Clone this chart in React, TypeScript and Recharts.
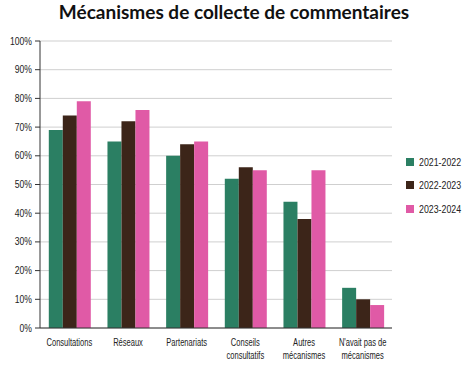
import React from 'react';
import { BarChart, Bar, XAxis, YAxis, CartesianGrid } from 'recharts';

const categories = ['Consultations', 'Réseaux', 'Partenariats', 'Conseils\nconsultatifs', 'Autres\nmécanismes', "N'avait pas de\nmécanismes"];
const s2021 = [69, 65, 60, 52, 44, 14];
const s2022 = [74, 72, 64, 56, 38, 10];
const s2023 = [79, 76, 65, 55, 55, 8];
const seriesNames = ['2021-2022', '2022-2023', '2023-2024'];
const yTicks = [0, 10, 20, 30, 40, 50, 60, 70, 80, 90, 100];

const colors = ['#2b7f63', '#3c2519', '#e05aa6'];
const data = categories.map((c, i) => ({ name: c, a: s2021[i], b: s2022[i], c: s2023[i] }));
const FONT = '"Liberation Sans", Arial, sans-serif';

const XTick = (props: any) => {
  const { x, y, payload } = props;
  const lines = String(payload.value).split('\n');
  return (
    <g transform={`translate(${x},${y}) scale(0.72,1)`}>
      <text x={0} y={0} textAnchor="middle" fontFamily={FONT} fontSize={10.5} fill="#222">
        {lines.map((l: string, i: number) => (
          <tspan key={i} x={0} dy={i === 0 ? 10 : 13}>{l}</tspan>
        ))}
      </text>
    </g>
  );
};

const YTick = (props: any) => {
  const { x, y, payload } = props;
  return (
    <g transform={`translate(${x},${y}) scale(0.82,1)`}>
      <text x={0} y={0} dy={3.5} textAnchor="end" fontFamily={FONT} fontSize={10.5} fill="#222">{`${payload.value}%`}</text>
    </g>
  );
};

const LegendBox = () => (
  <div style={{ position: 'absolute', left: 406, top: 150, width: 62, fontFamily: FONT, fontSize: 11, color: '#222' }}>
    {seriesNames.map((n, i) => (
      <div key={n} style={{ display: 'flex', alignItems: 'center', height: 23.5, whiteSpace: 'nowrap' }}>
        <div style={{ width: 8, height: 8, background: colors[i], marginRight: 5, flex: 'none' }} />
        <span style={{ display: 'inline-block', transform: 'scaleX(0.8)', transformOrigin: 'left center' }}>{n}</span>
      </div>
    ))}
  </div>
);

export default function App() {
  return (
    <div style={{ position: 'absolute', left: 0, top: 0, width: 468, height: 370, background: '#fff' }}>
      <div style={{ position: 'absolute', left: 0, top: 0, width: 468, textAlign: 'center', fontFamily: 'Lato, sans-serif', fontWeight: 700, fontSize: 19, lineHeight: '24px', color: '#111' }}>
        Mécanismes de collecte de commentaires
      </div>
      <BarChart width={468} height={370} data={data} margin={{ top: 41, right: 76, bottom: 2, left: 8 }} barCategoryGap="15%" barGap={0}>
        <CartesianGrid vertical={false} stroke="#cfcfcf" />
        <XAxis dataKey="name" interval={0} tick={<XTick />} tickLine={false} axisLine={{ stroke: '#333' }} height={40} />
        <YAxis domain={[0, 100]} ticks={yTicks} width={32} tickSize={5} tickMargin={3}
          tick={<YTick />} axisLine={{ stroke: '#333' }} tickLine={{ stroke: '#333' }} interval={0} />
        <Bar dataKey="a" name={seriesNames[0]} fill={colors[0]} isAnimationActive={false} />
        <Bar dataKey="b" name={seriesNames[1]} fill={colors[1]} isAnimationActive={false} />
        <Bar dataKey="c" name={seriesNames[2]} fill={colors[2]} isAnimationActive={false} />
      </BarChart>
      <LegendBox />
    </div>
  );
}
